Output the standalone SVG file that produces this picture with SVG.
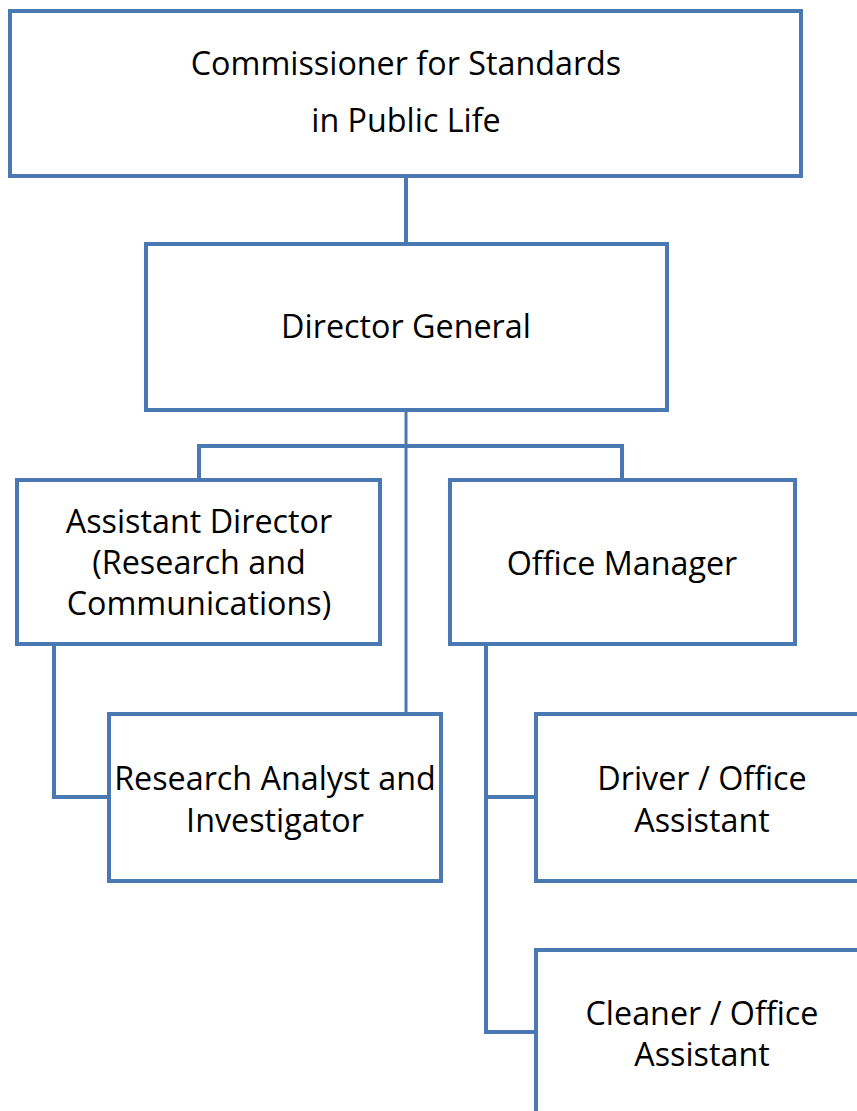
<svg xmlns="http://www.w3.org/2000/svg" width="857" height="1111" viewBox="0 0 857 1111">
<style>
.box{fill:#fff;stroke:#4A78B2;stroke-width:4}
.ln{fill:none;stroke:#4A78B2;stroke-width:4;stroke-linejoin:miter}
text{font-family:"Open Sans",Carlito,Lato,sans-serif;font-size:32.3px;fill:#000;text-anchor:middle}
</style>
<rect width="857" height="1111" fill="#fff"/>
<g id="connectors">
<line class="ln" x1="406" y1="176" x2="406" y2="244"/>
<line class="ln" x1="406" y1="410" x2="406" y2="714" style="stroke-width:3"/>
<polyline class="ln" points="199,480 199,446 622,446 622,480"/>
<polyline class="ln" points="54,644 54,797 109,797"/>
<polyline class="ln" points="486,644 486,1032 536,1032"/>
<line class="ln" x1="486" y1="797" x2="536" y2="797"/>
</g>
<g id="commissioner">
<rect class="box" x="10" y="11" width="791" height="165"/>
<text x="406" y="75">Commissioner for Standards</text>
<text x="406" y="132">in Public Life</text>
</g>
<g id="director-general">
<rect class="box" x="146" y="244" width="521" height="166"/>
<text x="406" y="338">Director General</text>
</g>
<g id="assistant-director">
<rect class="box" x="17" y="480" width="363" height="164"/>
<text x="199" y="533">Assistant Director</text>
<text x="199" y="574">(Research and</text>
<text x="199" y="615">Communications)</text>
</g>
<g id="office-manager">
<rect class="box" x="450" y="480" width="345" height="164"/>
<text x="622" y="575">Office Manager</text>
</g>
<g id="research-analyst">
<rect class="box" x="109" y="714" width="332" height="167"/>
<text x="275" y="790">Research Analyst and</text>
<text x="275" y="832">Investigator</text>
</g>
<g id="driver">
<rect class="box" x="536" y="714" width="340" height="167"/>
<text x="702" y="790">Driver / Office</text>
<text x="702" y="832">Assistant</text>
</g>
<g id="cleaner">
<rect class="box" x="536" y="950" width="340" height="180"/>
<text x="702" y="1025">Cleaner / Office</text>
<text x="702" y="1066">Assistant</text>
</g>
</svg>
